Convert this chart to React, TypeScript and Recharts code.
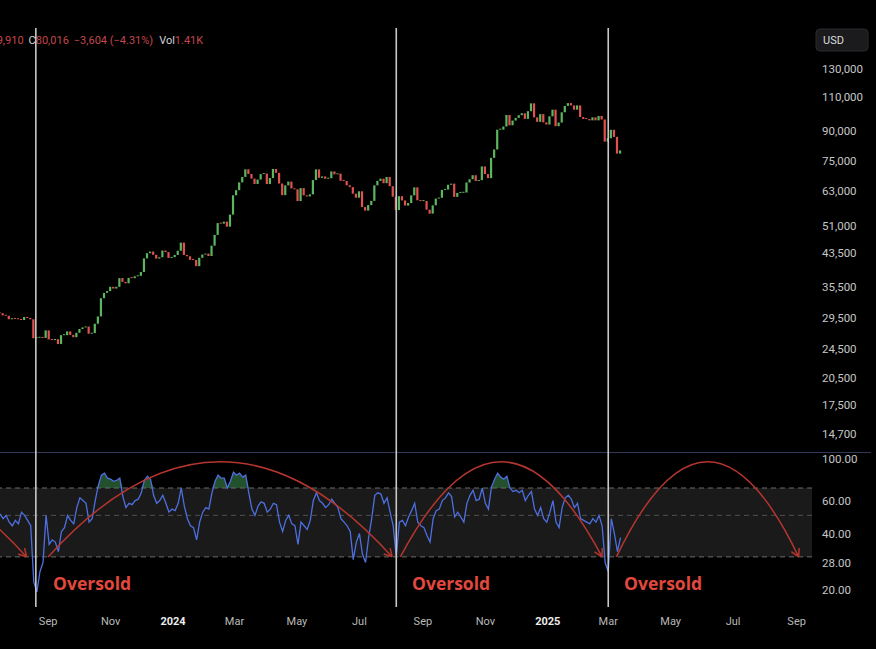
import React from 'react';
import {
  ComposedChart, Bar, Line, Area, XAxis, YAxis, ReferenceLine, ReferenceArea,
} from 'recharts';

const DAY_MS = 86400000;
const T0 = Date.UTC(2023, 6, 16); // first candle
const dayOf = (y: number, m: number, d: number) => Math.round((Date.UTC(y, m - 1, d) - T0) / DAY_MS);

const STEP = 3; // one candle / rsi sample every 3 days
const X_END = 793;

const firstOpen = 30300;
const closes = [
  30250, 29860, 29790, 29180, 29320, 29230, 29170, 29050, 29570, 29410,
  29170, 26050, 26120, 26160, 26100, 27300, 25870, 25780, 25900, 25160,
  26530, 26530, 27130, 26580, 26210, 26910, 27530, 27790, 27930, 26760,
  26860, 28410, 29670, 33090, 34150, 34530, 35420, 35050, 35420, 37310,
  36490, 36170, 37360, 37290, 37720, 37820, 38690, 41980, 43290, 43720,
  42890, 41930, 42260, 43990, 43580, 42100, 42280, 42850, 43930, 46120,
  42850, 42510, 41620, 41580, 40080, 42120, 42940, 43190, 42580, 45300,
  48300, 51840, 51660, 52280, 50730, 54520, 61200, 63110, 66110, 68300,
  71480, 69500, 67610, 65490, 67230, 69450, 69700, 65450, 67840, 71630,
  70010, 65660, 61270, 64940, 66410, 63760, 63420, 59120, 63890, 61190,
  60790, 61550, 67040, 71450, 67930, 68510, 67570, 67760, 70570, 69360,
  69650, 66750, 66640, 64960, 64260, 61800, 60320, 62680, 57030, 55850,
  57720, 59200, 64960, 66710, 67590, 65780, 68260, 64630, 60700, 56030,
  60880, 59350, 57560, 58430, 61170, 64160, 59420, 59120, 59140, 56160,
  54840, 57640, 60000, 60300, 63210, 63330, 65180, 65600, 60630, 62070,
  62130, 62220, 66050, 67370, 69000, 66650, 67000, 72700, 69480, 67800,
  76550, 80470, 90580, 90600, 92300, 98900, 93000, 95640, 97190, 98770,
  99920, 96600, 101170, 106030, 97490, 94930, 99400, 94600, 93430, 98100,
  102080, 92480, 94520, 100500, 104410, 106150, 104720, 102080, 104730, 97690,
  96600, 96530, 95780, 97500, 95770, 98330, 96270, 84350, 86060, 90500,
  86750, 78530, 80020,
];

const rsi = [
  51, 48, 50, 46, 44, 47, 45, 52, 50, 47,
  44, 22, 19.5, 25, 28, 50, 35, 37, 36, 32,
  41, 43, 50, 47, 45, 55, 62, 60, 58, 46,
  48, 60, 72, 82, 84, 79, 78, 76, 77, 79,
  63, 55, 58, 57, 60, 61, 66, 77, 81, 78,
  64, 58, 60, 64, 58, 52, 54, 53, 58, 70,
  56, 48, 44, 43, 37, 46, 52, 55, 54, 66,
  76, 82, 79, 79, 70, 76, 85, 82, 84, 80,
  82, 66, 54, 50, 56, 59, 58, 52, 54, 58,
  57, 46, 41, 47, 50, 45, 44, 35, 46, 44,
  42, 47, 60, 66, 60, 58, 55, 57, 61, 58,
  55, 48, 46, 44, 41, 29, 36, 40, 31, 28,
  38, 48, 64, 66, 65, 58, 62, 52, 44, 30,
  46, 47, 44, 49, 53, 58, 46, 44, 43, 39,
  36, 48, 53, 54, 60, 62, 66, 63, 49, 52,
  49, 46, 58, 64, 68, 60, 61, 70, 58, 54,
  71, 78, 84, 80, 78, 81, 70, 67, 68, 66,
  68, 60, 64, 67, 54, 50, 55, 48, 46, 52,
  60, 46, 43, 55, 62, 64, 61, 55, 58, 48,
  47, 46, 45, 48, 46, 50, 44, 28, 25, 48,
  40, 32, 38,
];

const priceTicks = [130000, 110000, 90000, 75000, 63000, 51000, 43500, 35500, 29500, 24500, 20500, 17500, 14700];
const rsiTicks = [100, 60, 40, 28, 20];

const monthTicks = [
  dayOf(2023, 9, 1), dayOf(2023, 11, 1), dayOf(2024, 1, 1), dayOf(2024, 3, 1),
  dayOf(2024, 5, 1), dayOf(2024, 7, 1), dayOf(2024, 9, 1), dayOf(2024, 11, 1),
  dayOf(2025, 1, 1), dayOf(2025, 3, 1), dayOf(2025, 5, 1), dayOf(2025, 7, 1),
  dayOf(2025, 9, 1),
];
const monthLabels = ['Sep', 'Nov', '2024', 'Mar', 'May', 'Jul', 'Sep', 'Nov', '2025', 'Mar', 'May', 'Jul', 'Sep'];

// capitulation days marked with vertical lines
const crashDays = [dayOf(2023, 8, 20), dayOf(2024, 8, 6), dayOf(2025, 3, 1)];

// cycle arcs on the RSI pane: start day, end day (first one starts off-screen)
const arcStarts = [-310, 47, 391, 602];
const arcEnds = [26, 383, 588, 780];
const arcLow = 30;
const arcControl = 312;

const UP = '#5cb55f';
const DOWN = '#e0524f';
const AXIS_TEXT = '#c6c6c6';

const candles = closes.map((c, i) => {
  const o = i === 0 ? firstOpen : closes[i - 1];
  return { d: i * STEP, o, c, body: [Math.min(o, c), Math.max(o, c)] };
});

const rsiData = rsi.map((v, i) => ({ d: i * STEP, v, ob: [70, Math.max(70, v)] }));

const arcs = arcStarts.map((s, i) => [
  { d: s, v: arcLow },
  { d: (s + arcEnds[i]) / 2, v: arcControl },
  { d: arcEnds[i], v: arcLow },
]);

// quadratic curve through start / control / end with an open arrow head
const arcCurve: any = (ctx: any) => {
  let pts: number[][] = [];
  return {
    areaStart() {},
    areaEnd() {},
    lineStart() { pts = []; },
    point(x: number, y: number) { pts.push([+x, +y]); },
    lineEnd() {
      if (pts.length !== 3) return;
      const [a, b, c] = pts;
      ctx.moveTo(a[0], a[1]);
      ctx.quadraticCurveTo(b[0], b[1], c[0], c[1]);
      const ang = Math.atan2(c[1] - b[1], c[0] - b[0]);
      [-0.5, 0.5].forEach((s) => {
        ctx.moveTo(c[0], c[1]);
        ctx.lineTo(c[0] - 9 * Math.cos(ang + s), c[1] - 9 * Math.sin(ang + s));
      });
    },
  };
};

const Candle = (p: any) => {
  const { x, y, width, height, payload } = p;
  const up = payload.c >= payload.o;
  const h = Math.max(height || 0, 1);
  return <rect x={x} y={height < 1 ? y - 0.5 : y} width={width} height={h} fill={up ? UP : DOWN} />;
};

const TimeTick = ({ x, y, payload }: any) => {
  const label = monthLabels[monthTicks.indexOf(payload.value)] || '';
  const isYear = /^\d{4}$/.test(label);
  return (
    <text x={x} y={y} dy="0.71em" textAnchor="middle" fontSize={11} fontFamily="Roboto"
      fontWeight={isYear ? 700 : 400} fill={isYear ? '#ececec' : '#b9b9b9'}>
      {label}
    </text>
  );
};

const tickStyle = { fill: AXIS_TEXT, fontSize: 11.5, fontFamily: 'Roboto' };
const red = '#c4474d';
const gray = '#d1d4dc';

export default function App() {
  return (
    <div style={{ position: 'fixed', left: 0, top: 0, width: 876, height: 649, background: '#000', overflow: 'hidden' }}>
      <svg width={876} height={649} style={{ position: 'absolute', left: 0, top: 0 }}>
        <text x={-9.5} y={43.5} fontSize={11} fontFamily="Roboto">
          <tspan fill={red}>79,910</tspan>
          <tspan fill={gray} dx={5}>C</tspan>
          <tspan fill={red}>80,016</tspan>
          <tspan fill={red} dx={5}>−3,604 (−4.31%)</tspan>
          <tspan fill={gray} dx={6}>Vol</tspan>
          <tspan fill={red}>1.41K</tspan>
        </text>
        <rect x={816} y={29} width={52} height={22} rx={4} fill="#1b1b1d" stroke="#2a2a2e" />
        <text x={823} y={44} fontSize={11} fontFamily="Roboto" fill="#dcdcdc">USD</text>
        <line x1={0} x2={871} y1={452.5} y2={452.5} stroke="#343856" strokeWidth={1} />
        {[53, 412, 624].map((x) => (
          <text key={x} x={x} y={590} fontSize={17.5} fontWeight={700} fontFamily="Open Sans" fill="#e2483d">Oversold</text>
        ))}
      </svg>

      <div style={{ position: 'absolute', left: 0, top: 0 }}>
        <ComposedChart width={876} height={452} data={candles} margin={{ top: 28, right: 0, bottom: 0, left: 0 }}>
          <XAxis type="number" dataKey="d" domain={[0, X_END]} allowDataOverflow hide />
          <YAxis orientation="right" scale="log" domain={[13200, 166300]} allowDataOverflow
            ticks={priceTicks} interval={0} width={64} axisLine={false} tickLine={false} tickMargin={4}
            tick={tickStyle} tickFormatter={(v: number) => v.toLocaleString('en-US')} />
          {crashDays.map((d) => (
            <ReferenceLine key={d} x={d} stroke="#c8c8c8" strokeWidth={1.6} />
          ))}
          <Bar dataKey="body" barSize={2.2} minPointSize={1} shape={Candle} isAnimationActive={false} />
        </ComposedChart>
      </div>

      <div style={{ position: 'absolute', left: 0, top: 452 }}>
        <ComposedChart width={876} height={197} data={rsiData} margin={{ top: 0, right: 0, bottom: 0, left: 0 }}>
          <XAxis type="number" dataKey="d" domain={[0, X_END]} allowDataOverflow ticks={monthTicks}
            interval={0} height={42} axisLine={false} tickLine={false} tickMargin={4} tick={<TimeTick />} />
          <YAxis orientation="right" scale="log" domain={[16.2, 109]} allowDataOverflow
            ticks={rsiTicks} interval={0} width={64} axisLine={false} tickLine={false} tickMargin={4}
            tick={tickStyle} tickFormatter={(v: number) => v.toFixed(2)} />
          <ReferenceArea x1={0} x2={X_END} y1={30} y2={70} fill="#ffffff" fillOpacity={0.1} stroke="none" />
          <ReferenceLine y={70} stroke="#6a6a6a" strokeDasharray="5 4" />
          <ReferenceLine y={50} stroke="#505050" strokeDasharray="5 4" />
          <ReferenceLine y={30} stroke="#6a6a6a" strokeDasharray="5 4" />
          <Area dataKey="ob" fill="#2f6b3c" fillOpacity={0.75} stroke="none" isAnimationActive={false} />
          <Line dataKey="v" stroke="#4d6fe0" strokeWidth={1.3} dot={false} type="linear" isAnimationActive={false} />
          {arcs.map((a, i) => (
            <Line key={i} data={a} dataKey="v" type={arcCurve} stroke="#b5362f" strokeWidth={1.5}
              dot={false} activeDot={false} isAnimationActive={false} />
          ))}
          {crashDays.map((d) => (
            <ReferenceLine key={d} x={d} stroke="#c8c8c8" strokeWidth={1.6} />
          ))}
        </ComposedChart>
      </div>
    </div>
  );
}
